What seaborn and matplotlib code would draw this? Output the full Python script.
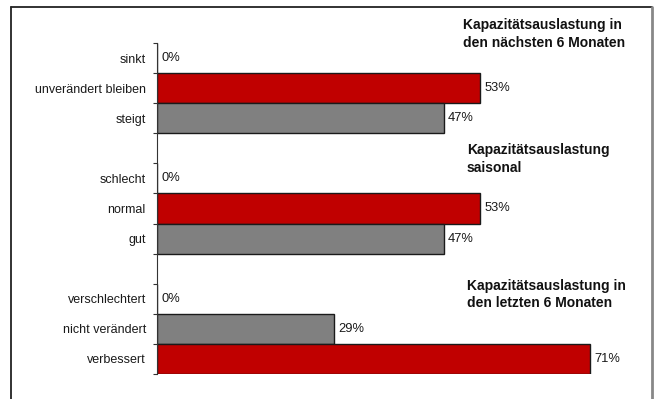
import numpy as np
import pandas as pd
import seaborn as sns
import matplotlib.pyplot as plt
from matplotlib.lines import Line2D

sns.set_theme(style="white")
plt.rcParams['font.family'] = ['Liberation Sans', 'DejaVu Sans']

# slots from top to bottom, blank strings are the gaps between the groups
order = ["sinkt", "unverändert bleiben", "steigt", "",
         "schlecht", "normal", "gut", " ",
         "verschlechtert", "nicht verändert", "verbessert"]
labels = ["sinkt", "unverändert bleiben", "steigt",
          "schlecht", "normal", "gut",
          "verschlechtert", "nicht verändert", "verbessert"]
values = [0, 53, 47, 0, 53, 47, 0, 29, 71]
colours = ["#808080", "#C00000", "#808080",
           "#808080", "#C00000", "#808080",
           "#808080", "#808080", "#C00000"]
titles = ["Kapazitätsauslastung in\nden nächsten 6 Monaten",
          "Kapazitätsauslastung\nsaisonal",
          "Kapazitätsauslastung in\nden letzten 6 Monaten"]

df = pd.DataFrame({"label": labels, "value": values})
pal = dict(zip(labels, colours))

W, H = 655, 399
fig = plt.figure(figsize=(W / 100, H / 100), dpi=100)
ax = fig.add_axes([157 / W, 1 - 374 / H, 476 / W, 331 / H])

sns.barplot(data=df, x="value", y="label", hue="label", order=order,
            hue_order=labels, palette=pal, width=1.0, legend=False,
            edgecolor="#1a1a1a", linewidth=1.0, saturation=1, ax=ax)

for c in ax.containers:
    ax.bar_label(c, fmt="{:.0f}%", padding=3, fontsize=9.3, color="#1a1a1a")

ax.set_xlim(0, 78)
ax.set_ylim(len(order) - 0.5, -0.5)
ax.set_xlabel("")
ax.set_ylabel("")
ax.set_xticks([])
ax.tick_params(axis="y", which="major", length=0, pad=8, labelsize=9,
               labelcolor="#1a1a1a")
ax.set_yticks(np.arange(-0.5, len(order)), minor=True)
ax.tick_params(axis="y", which="minor", left=True, length=3, width=0.8,
               color="#333333")
for s in ["top", "right", "bottom"]:
    ax.spines[s].set_visible(False)
ax.spines["left"].set_color("#333333")
ax.spines["left"].set_linewidth(0.8)

# group titles
for (x, y), t in zip([(463, 34), (467, 159), (467, 294.5)], titles):
    fig.text(x / W, 1 - y / H, t, fontsize=10, fontweight="bold",
             va="center", ha="left", linespacing=1.3, color="#111111")

# chart frame
fig.add_artist(Line2D([11 / W, 11 / W], [0, 1 - 7 / H], color="#222222", lw=1.3))
fig.add_artist(Line2D([11 / W, 652 / W], [1 - 7 / H, 1 - 7 / H], color="#222222", lw=1.3))
fig.add_artist(Line2D([652 / W, 652 / W], [0, 1 - 7 / H], color="#888888", lw=2))

fig.savefig("out.png", dpi=100)
